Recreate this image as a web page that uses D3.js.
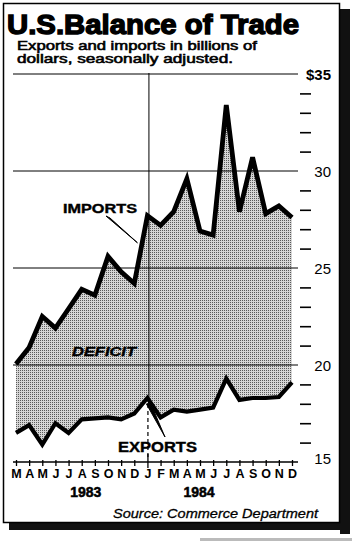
<!DOCTYPE html>
<html>
<head>
<meta charset="utf-8">
<script src="https://cdn.jsdelivr.net/npm/d3@7"></script>
<style>
  body { margin: 0; background: #fff; }
  svg { display: block; font-family: 'Liberation Sans', Arial, sans-serif; }
</style>
</head>
<body>
<script>
// ! Data (billions of dollars, monthly)
const monthKeys = ['1983-03', '1983-04', '1983-05', '1983-06', '1983-07', '1983-08', '1983-09',
  '1983-10', '1983-11', '1983-12', '1984-01', '1984-02', '1984-03', '1984-04', '1984-05',
  '1984-06', '1984-07', '1984-08', '1984-09', '1984-10', '1984-11', '1984-12'];
const monthLetters = ['M', 'A', 'M', 'J', 'J', 'A', 'S', 'O', 'N', 'D',
  'J', 'F', 'M', 'A', 'M', 'J', 'J', 'A', 'S', 'O', 'N', 'D'];
const importValues = [20.05, 20.9, 22.5, 21.9, 22.9, 23.9, 23.6, 25.6, 24.8, 24.2,
  27.7, 27.2, 27.9, 29.6, 26.9, 26.7, 33.4, 27.9, 30.7, 27.8, 28.2, 27.6];
const exportValues = [16.5, 16.9, 15.9, 17.0, 16.5, 17.2, 17.25, 17.3, 17.2, 17.5,
  18.3, 17.3, 17.7, 17.6, 17.7, 17.8, 19.3, 18.2, 18.3, 18.3, 18.35, 19.1];
const gridValues = [20, 25, 30, 35];
const labelValues = [15, 20, 25, 30, 35];
const minorValues = d3.range(16, 35).filter((v) => v % 5 !== 0);
const yearLabels = [{ text: '1983', at: '1983-08', dx: 4 }, { text: '1984', at: '1984-05', dx: -1 }];

const width = 352;
const height = 541;

const svg = d3.select('body').append('svg')
  .attr('width', width)
  .attr('height', height);

// * halftone stipple for the deficit area
const defs = svg.append('defs');
const pat = defs.append('pattern')
  .attr('id', 'stipple')
  .attr('width', 2)
  .attr('height', 2)
  .attr('patternUnits', 'userSpaceOnUse');
pat.append('rect').attr('width', 2).attr('height', 2).attr('fill', '#d6d6d6');
pat.append('rect').attr('width', 1).attr('height', 1).attr('fill', '#5a5a5a');

// ! Frame with heavy shadow
svg.append('rect').attr('x', 340).attr('y', 9).attr('width', 10).attr('height', 525).attr('fill', '#111');
svg.append('rect').attr('x', 9).attr('y', 522).attr('width', 341).attr('height', 8).attr('fill', '#111');
svg.append('rect').attr('x', 200).attr('y', 538).attr('width', 152).attr('height', 3).attr('fill', '#bbb');
svg.append('rect')
  .attr('x', 3.5).attr('y', 3.5).attr('width', 336).attr('height', 519)
  .attr('fill', '#fff').attr('stroke', '#000').attr('stroke-width', 1.5);

// ! Titles
svg.append('text')
  .attr('x', 7).attr('y', 34)
  .attr('font-size', 28).attr('font-weight', 900)
  .attr('stroke', '#000').attr('stroke-width', 1.4)
  .attr('textLength', 292).attr('lengthAdjust', 'spacingAndGlyphs')
  .text('U.S.Balance of Trade');
svg.append('text')
  .attr('x', 17).attr('y', 50)
  .attr('font-size', 12).attr('stroke', '#000').attr('stroke-width', 0.55)
  .attr('textLength', 240).attr('lengthAdjust', 'spacingAndGlyphs')
  .text('Exports and imports in billions of');
svg.append('text')
  .attr('x', 17).attr('y', 63)
  .attr('font-size', 12).attr('stroke', '#000').attr('stroke-width', 0.55)
  .attr('textLength', 216).attr('lengthAdjust', 'spacingAndGlyphs')
  .text('dollars, seasonally adjusted.');

// ! Scales
const x = d3.scalePoint().domain(monthKeys).range([16, 292]);
const y = d3.scaleLinear().domain([15, 35]).range([462, 74]);
const left = 13;
const right = 298;

const rows = monthKeys.map((k, i) => ({ k, imp: importValues[i], exp: exportValues[i] }));

// * deficit area between the two series
svg.append('path')
  .datum(rows)
  .attr('fill', 'url(#stipple)')
  .attr('d', d3.area().x((d) => x(d.k)).y0((d) => y(d.exp)).y1((d) => y(d.imp)));

// * gridlines
svg.append('g').selectAll('line')
  .data(gridValues)
  .join('line')
  .attr('x1', left).attr('x2', right)
  .attr('y1', (d) => y(d)).attr('y2', (d) => y(d))
  .attr('stroke', '#000').attr('stroke-width', 1);

// * January 1984 divider
const jan = x('1984-01');
svg.append('line')
  .attr('x1', jan + 1.5).attr('x2', jan + 1.5)
  .attr('y1', y(35) - 1).attr('y2', y(exportValues[10]))
  .attr('stroke', '#000').attr('stroke-width', 1);
svg.append('line')
  .attr('x1', jan + 0.5).attr('x2', jan + 0.5)
  .attr('y1', y(exportValues[10]) + 6).attr('y2', y(15) - 4)
  .attr('stroke', '#000').attr('stroke-width', 1.2)
  .attr('stroke-dasharray', '4,3');

// ! Bottom axis (months)
const xAxis = svg.append('g')
  .attr('transform', `translate(0, ${y(15)})`)
  .call(d3.axisBottom(x).tickSize(5).tickSizeOuter(0)
    .tickFormat((d, i) => monthLetters[i]));
xAxis.select('.domain').remove();
xAxis.selectAll('.tick line').attr('stroke-width', 1.3).attr('y1', -2).attr('y2', 4);
xAxis.selectAll('.tick text')
  .attr('y', 7).attr('dy', '0.71em')
  .attr('font-size', 12.5).attr('font-weight', 'bold')
  .attr('font-family', 'Liberation Sans, Arial, sans-serif')
  .attr('fill', '#000');
xAxis.selectAll('.tick')
  .filter((d) => d === '1984-01')
  .select('line').attr('y1', -8).attr('y2', 6);
svg.append('line')
  .attr('x1', left).attr('x2', right)
  .attr('y1', y(15)).attr('y2', y(15))
  .attr('stroke', '#000').attr('stroke-width', 1.5);

svg.append('g').selectAll('text')
  .data(yearLabels)
  .join('text')
  .attr('x', (d) => x(d.at) + d.dx)
  .attr('y', 497)
  .attr('text-anchor', 'middle')
  .attr('font-size', 14).attr('font-weight', 'bold')
  .attr('stroke', '#000').attr('stroke-width', 0.5)
  .text((d) => d.text);

// ! Right axis: minor dashes and dollar labels
const minorAxis = svg.append('g')
  .attr('transform', 'translate(300, 0)')
  .call(d3.axisRight(y).tickValues(minorValues).tickSize(11).tickFormat(''));
minorAxis.select('.domain').remove();
minorAxis.selectAll('.tick line').attr('stroke-width', 1.6);

const labelAxis = svg.append('g')
  .attr('transform', 'translate(331, 0)')
  .call(d3.axisRight(y).tickValues(labelValues).tickSize(0)
    .tickFormat((d) => (d === 35 ? '$35' : d)));
labelAxis.select('.domain').remove();
labelAxis.selectAll('.tick text')
  .attr('x', 0)
  .attr('text-anchor', 'end')
  .attr('font-size', 15)
  .attr('font-family', 'Liberation Sans, Arial, sans-serif')
  .attr('fill', '#000')
  .attr('font-weight', (d) => (d === 35 ? 'bold' : 'normal'))
  .attr('dy', (d) => (d === 15 ? '0.1em' : '0.35em'));

// ! Series lines
const line = d3.line().x((d) => x(d.k));
svg.append('path')
  .datum(rows)
  .attr('fill', 'none').attr('stroke', '#000')
  .attr('stroke-width', 4.8).attr('stroke-linejoin', 'miter')
  .attr('d', line.y((d) => y(d.imp)));
svg.append('path')
  .datum(rows)
  .attr('fill', 'none').attr('stroke', '#000')
  .attr('stroke-width', 4.2).attr('stroke-linejoin', 'miter')
  .attr('d', d3.line().x((d) => x(d.k)).y((d) => y(d.exp)));

// ! Annotations
svg.append('text')
  .attr('x', 63).attr('y', 213)
  .attr('font-size', 13.5).attr('font-weight', 'bold')
  .attr('stroke', '#000').attr('stroke-width', 0.4)
  .attr('textLength', 74).attr('lengthAdjust', 'spacingAndGlyphs')
  .text('IMPORTS');
const impTip = [x('1984-01') - 10, y(26.3)];
svg.append('path')
  .attr('d', `M106,216 L110,218 L${impTip[0]},${impTip[1]} Z`)
  .attr('fill', '#000').attr('stroke', '#000').attr('stroke-width', 1);

svg.append('text')
  .attr('x', 72).attr('y', 356)
  .attr('font-size', 13).attr('font-weight', 'bold').attr('font-style', 'italic')
  .attr('stroke', '#000').attr('stroke-width', 0.4)
  .attr('textLength', 64).attr('lengthAdjust', 'spacingAndGlyphs')
  .text('DEFICIT');

svg.append('text')
  .attr('x', 118).attr('y', 452)
  .attr('font-size', 14).attr('font-weight', 'bold')
  .attr('stroke', '#000').attr('stroke-width', 0.4)
  .attr('textLength', 79).attr('lengthAdjust', 'spacingAndGlyphs')
  .text('EXPORTS');
const expTop = [x('1984-01'), y(exportValues[10]) + 6];
svg.append('path')
  .attr('d', `M${expTop[0] - 1},${expTop[1]} L${expTop[0] + 3},${expTop[1] - 1} L165,437 Z`)
  .attr('fill', '#000').attr('stroke', '#000').attr('stroke-width', 1);

// ! Source
svg.append('text')
  .attr('x', 113).attr('y', 518)
  .attr('font-size', 13).attr('font-style', 'italic')
  .attr('stroke', '#000').attr('stroke-width', 0.3)
  .attr('textLength', 205).attr('lengthAdjust', 'spacingAndGlyphs')
  .text('Source: Commerce Department');
</script>
</body>
</html>
